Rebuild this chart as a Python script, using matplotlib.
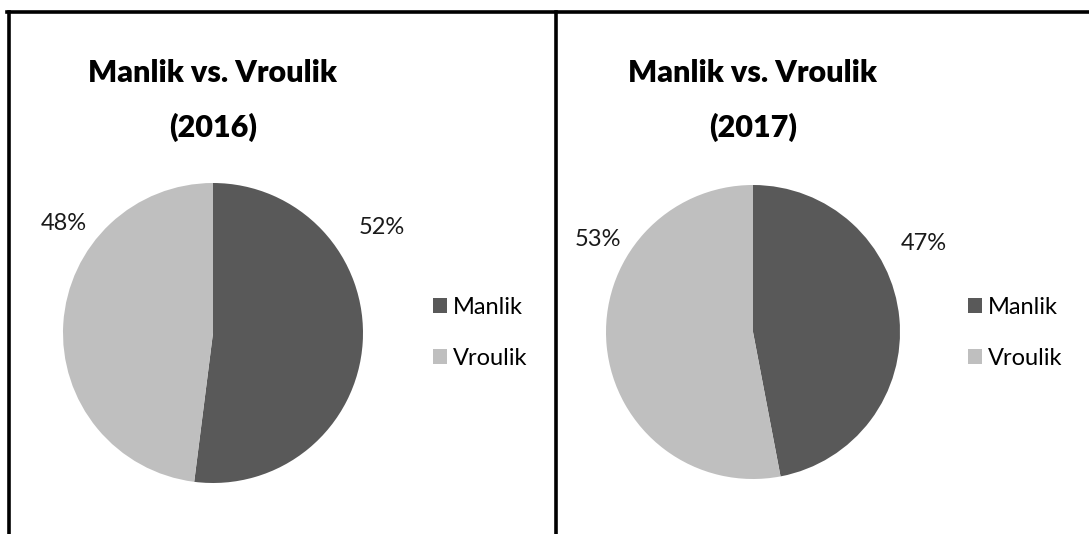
import matplotlib
matplotlib.use("Agg")
import matplotlib.pyplot as plt
from matplotlib.lines import Line2D
from matplotlib.patches import Patch

categories = ["Manlik", "Vroulik"]
years = ["2016", "2017"]
values_2016 = [52, 48]
values_2017 = [47, 53]
colors = ["#595959", "#BFBFBF"]

W, H = 1089, 534
plt.rcParams['font.family'] = ['Lato', 'DejaVu Sans']
fig = plt.figure(figsize=(W / 100, H / 100), dpi=100)

def px(x, y):
    return x / W, 1 - y / H

# frame lines
fig.add_artist(Line2D([7 / W, 1], [1 - 12 / H] * 2, color="black", lw=2.6, transform=fig.transFigure))
fig.add_artist(Line2D([9 / W] * 2, [1 - 12 / H, 0], color="black", lw=2.6, transform=fig.transFigure))
fig.add_artist(Line2D([556 / W] * 2, [1 - 12 / H, 0], color="black", lw=2.6, transform=fig.transFigure))

panels = [
    dict(vals=values_2016, year=years[0], cx=213, cy=333, r=150, tx=213,
         lab=[(382, 228), (64, 224)], leg=(433, 333)),
    dict(vals=values_2017, year=years[1], cx=753, cy=332, r=147, tx=753,
         lab=[(924, 244), (598, 239)], leg=(968, 333)),
]

for p in panels:
    x0, y0 = p["cx"] - p["r"], p["cy"] + p["r"]
    ax = fig.add_axes([x0 / W, 1 - y0 / H, 2 * p["r"] / W, 2 * p["r"] / H])
    ax.pie(p["vals"], colors=colors, startangle=90, counterclock=False,
           wedgeprops=dict(linewidth=0))
    ax.set_xlim(-1, 1)
    ax.set_ylim(-1, 1)
    ax.set_aspect("equal")
    ax.axis("off")
    for v, (lx, ly) in zip(p["vals"], p["lab"]):
        fig.text(*px(lx, ly), f"{v}%", ha="center", va="center", fontsize=17, color="#1a1a1a")
    fig.text(*px(p["tx"], 73), "Manlik vs. Vroulik", ha="center", va="center",
             fontsize=22, fontweight="heavy", color="black")
    fig.text(*px(p["tx"], 127), f"({p['year']})", ha="center", va="center",
             fontsize=22, fontweight="heavy", color="black")
    handles = [Patch(facecolor=c, edgecolor="none") for c in colors]
    lx, ly = p["leg"]
    fig.legend(handles, categories, loc="center left", bbox_to_anchor=px(lx, ly),
               frameon=False, fontsize=17, handlelength=0.6, handleheight=0.6,
               handletextpad=0.25, labelspacing=1.25, borderpad=0, borderaxespad=0)

fig.savefig("out.png", dpi=100)
